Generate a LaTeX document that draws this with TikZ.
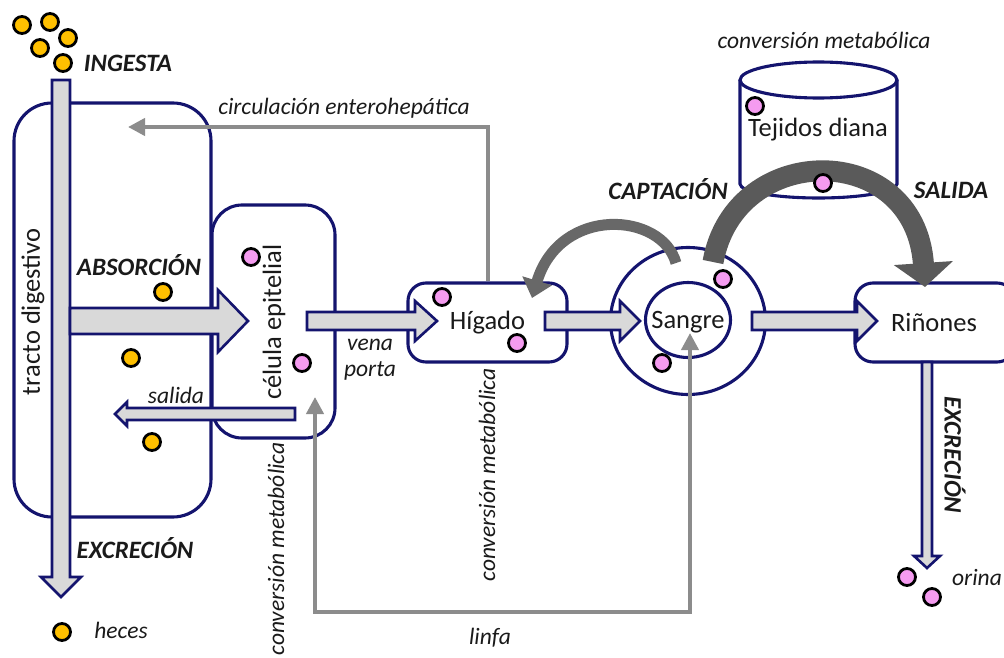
\documentclass[tikz,border=0pt]{standalone}
\usepackage{fontspec}
\setmainfont{Carlito}
\usetikzlibrary{arrows.meta,calc,shapes.geometric}
\definecolor{navy}{HTML}{14146E}
\definecolor{afill}{HTML}{D9D9D9}
\definecolor{lgray}{HTML}{8C8C8C}
\definecolor{dgray}{HTML}{5A5A5A}
\definecolor{mgray}{HTML}{686868}
\definecolor{ydot}{HTML}{FFC000}
\definecolor{pdot}{HTML}{F59BF0}
\definecolor{txt}{HTML}{1A1A1A}
\newcommand\HArrow[5]{\draw[blockarrow] let \p1=(#1),\p2=(#2) in
  (\x1,\y1+#3) -- (\x2-#5,\y1+#3) -- (\x2-#5,\y1+#4) -- (\x2,\y1) --
  (\x2-#5,\y1-#4) -- (\x2-#5,\y1-#3) -- (\x1,\y1-#3) -- cycle;}
\newcommand\VArrow[5]{\draw[blockarrow] let \p1=(#1),\p2=(#2) in
  (\x1+#3,\y1) -- (\x1+#3,\y2+#5) -- (\x1+#4,\y2+#5) -- (\x1,\y2) --
  (\x1-#4,\y2+#5) -- (\x1-#3,\y2+#5) -- (\x1-#3,\y1) -- cycle;}
\tikzset{gtip/.tip={Triangle[width=17pt,length=17pt]}}
\begin{document}
\begin{tikzpicture}[x=1pt,y=-1pt,
  box/.style={draw=navy, line width=3.1pt, fill=white, rounded corners=#1, inner sep=0pt},
  box/.default=18pt,
  ring/.style={draw=navy, line width=3.1pt, ellipse, inner sep=0pt},
  blockarrow/.style={draw=navy, line width=2.6pt, fill=afill, line join=miter},
  grayline/.style={draw=lgray, line width=4pt},
  yball/.style={circle, draw=black, line width=2.8pt, fill=ydot, minimum size=17pt, inner sep=0pt},
  pball/.style={circle, draw=black, line width=2.8pt, fill=pdot, minimum size=17pt, inner sep=0pt},
  lbl/.style={font=\fontsize{26.5}{30}\selectfont, text=txt, inner sep=0pt},
  itl/.style={font=\fontsize{23.5}{26}\selectfont\itshape, text=txt, inner sep=0pt},
  bit/.style={font=\fontsize{25}{28}\selectfont\bfseries\itshape, text=txt, inner sep=0pt},
]
\useasboundingbox (0,0) rectangle (1004,658);
\clip (0,0) rectangle (1004,658);

% boxes
\node[box=38pt, minimum width=197pt, minimum height=414pt] (tract) at (112.5,310) {};
\node[box=30pt, minimum width=123pt, minimum height=233pt] (epit) at (273.5,321.5) {};
\node[box=18pt, minimum width=159pt, minimum height=79pt, lbl] (hig) at (487.5,322.5) {Hígado};
\node[box=18pt, minimum width=160pt, minimum height=79pt] (rin) at (935,322.5) {};
\node[lbl] (rinT) at (934,322) {Riñones};
\node[ring, minimum width=155pt, minimum height=147pt] (sangreO) at (688,321) {};
\node[ring, minimum width=85pt, minimum height=75pt] (sangreI) at (688,320) {};

% cylinder (tejidos diana)
\draw[navy, line width=3.1pt] (740,80) -- (740,184)
  .. controls (740,191.7) and (775.2,198) .. (818.5,198)
  .. controls (861.8,198) and (897,191.7) .. (897,184) -- (897,80);
\draw[navy, line width=3.1pt, fill=white] (818.5,80) ellipse[x radius=78.5, y radius=18];
\node[lbl] (tej) at (818,130) {Tejidos diana};

% block arrows
\coordinate (tractT) at (61,80);  \coordinate (tractB) at (61,597);
\VArrow{tractT}{tractB}{9pt}{20pt}{20pt}
\coordinate (absS) at (70,321);   \coordinate (absE) at (248,321);
\HArrow{absS}{absE}{13pt}{31pt}{30pt}
\coordinate (salS) at (295,414);  \coordinate (salE) at (115,414);
\HArrow{salS}{salE}{6pt}{12pt}{-12pt}
\coordinate (vpS) at (307,321);   \coordinate (vpE) at (437,321);
\HArrow{vpS}{vpE}{9pt}{20pt}{22pt}
\coordinate (hsS) at (545,321);   \coordinate (hsE) at (640,321);
\HArrow{hsS}{hsE}{9pt}{20pt}{20pt}
\coordinate (srS) at (752,321);   \coordinate (srE) at (877,321);
\HArrow{srS}{srE}{9pt}{20pt}{20pt}
\coordinate (exS) at (927,362);   \coordinate (exE) at (927,568);
\VArrow{exS}{exE}{5pt}{13pt}{12pt}

% gray connectors
\coordinate (ceE) at (128,127);
\draw[grayline,-gtip] (hig.north) |- (ceE);
\coordinate (lfE) at (315,397); \coordinate (lfC) at (315,612); \coordinate (lfS) at (690,333);
\draw[grayline,gtip-gtip] (lfE) -- (lfC) -| (lfS);

% curved arrows
\coordinate (smS) at (676,263); \coordinate (smE) at (532,298);
\draw[mgray, line width=11pt, -{Triangle[width=30pt,length=18pt]}] (smS) .. controls (662,212) and (560,205) .. (smE);
\coordinate (bigS) at (713,262); \coordinate (bigE) at (925,287);
\draw[dgray, line width=21pt, -{Triangle[width=58pt,length=24pt]}] (bigS) .. controls (735,140) and (915,140) .. (bigE);

% texts
\node[lbl] (sangreT) at (688,322) {Sangre};
\node[lbl, rotate=90] (tractT2) at (33,312) {tracto digestivo};
\node[lbl, rotate=90] (epitT) at (274,322) {célula epitelial};
\node[bit] (ingesta) at (128,63) {INGESTA};
\node[itl] (circ) at (344,108) {circulación enterohepática};
\node[bit] (absor) at (139,265) {ABSORCIÓN};
\node[itl] (salida) at (176,395) {salida};
\node[itl, align=center] (vena) at (370,360) {vena\\porta};
\node[bit] (excr1) at (135,548) {EXCRECIÓN};
\node[itl] (heces) at (121,630) {heces};
\node[itl] (linfa) at (490,638) {linfa};
\node[itl, rotate=90] (conv1) at (487,475) {conversión metabólica};
\node[itl, rotate=90] (conv2) at (276,549) {conversión metabólica};
\node[itl] (conv3) at (824,40) {conversión metabólica};
\node[bit] (capt) at (668,189) {CAPTACIÓN};
\node[bit] (salida2) at (951,190) {SALIDA};
\node[bit, rotate=-90] (excr2) at (955,455) {EXCRECIÓN};
\node[itl] (orina) at (977,577) {orina};

% dots
\foreach \p [count=\i] in {(22,25),(50,22),(40,48),(68,38),(63,63),(163,292),(131,358),(152,442),(62,632)}
  \node[yball] (y\i) at \p {};
\foreach \p [count=\i] in {(251,257),(302,363),(442,297),(517,343),(723,279),(662,363),(755,106),(823,183),(907,577),(932,597)}
  \node[pball] (p\i) at \p {};
\end{tikzpicture}
\end{document}
